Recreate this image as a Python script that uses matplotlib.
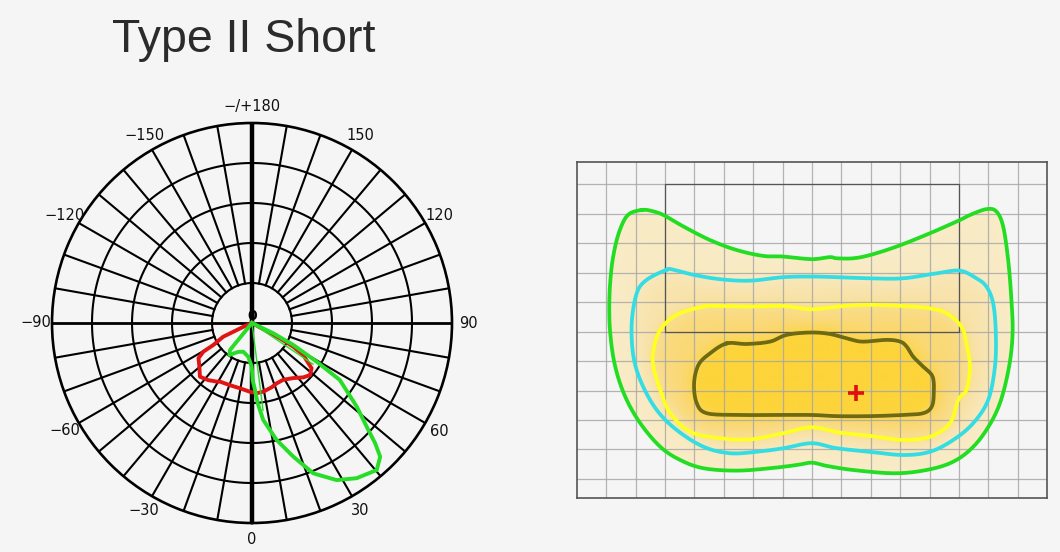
import numpy as np
import matplotlib
matplotlib.use("Agg")
import matplotlib.pyplot as plt
from matplotlib.path import Path
from matplotlib.patches import Polygon
from matplotlib.colors import LinearSegmentedColormap

BG = "#f5f5f5"

# --- polar intensity curves (angle in deg, intensity on 0..500 scale) ---
red_theta = [-66, -66, -64.5, -60.4, -59.5, -56.7, -50.3, -44.1, -37.5, -31, -28.6, -19.5, -10.4,
             -1.7, 3.8, 9.4, 17, 22.3, 28.8, 36.8, 43.4, 48.1, 52.8, 58, 60.2, 61.3, 61, 60]
red_r = [0, 25, 80, 111, 141, 160, 171, 187, 180, 171, 167, 165, 166,
         172, 176, 174, 168, 163, 162, 172, 187, 195, 187, 151, 119, 80, 43, 0]

green_theta = [-40, -39.2, -35.3, -25.5, -16.8, -6.3, -0.4, 0.7, 2.6, 4, 6.6, 11.9, 17.2,
               22.2, 28.3, 34, 40.3, 43.8, 45.7, 47.4, 51.4, 57, 59.1, 62, 64.2, 64]
green_r = [0, 87, 98, 80, 75, 85, 109, 143, 168, 200, 244, 299, 350,
           406, 446, 468, 482, 463, 430, 395, 335, 262, 189, 117, 59, 0]

thin_theta = [7.2, 7.2, 56, 56]
thin_r = [220, 0, 0, 184]

tick_angles = [0, 30, 60, 90, 120, 150, 180, 210, 240, 270, 300, 330]
tick_labels = ["0", "30", "60", "90", "120", "150", "\u2212/+180", "\u2212150", "\u2212120",
               "\u221290", "\u221260", "\u221230"]
rings = [100, 200, 300, 400]

# --- isolux contours (x, y in grid units) ---
green_x = [-5.79, -6.18, -6.41, -6.64, -6.81, -6.89, -6.86, -6.69, -6.35, -5.84, -5.16, -4.48, -3.69,
           -2.56, -1.43, -0.52, -0.01, 0.50, 1.40, 2.76, 3.78, 4.69, 5.37, 5.93, 6.39, 6.70, 6.82,
           6.78, 6.67, 6.50, 6.27, 5.93, 5.37, 5.03, 4.01, 2.88, 1.97, 1.40, 0.84, 0.61, -0.01,
           -0.97, -1.65, -2.56, -3.47, -4.37, -5.05, -5.50]
green_y = [4.13, 4.02, 3.74, 3.11, 2.21, 1.08, -0.06, -1.19, -2.21, -3.11, -3.91, -4.36, -4.64,
           -4.72, -4.64, -4.53, -4.45, -4.56, -4.70, -4.81, -4.72, -4.47, -4.02, -3.34, -2.43, -1.19, -0.06,
           1.08, 2.43, 3.57, 4.08, 4.16, 3.96, 3.79, 3.34, 2.89, 2.60, 2.49, 2.49, 2.53, 2.46,
           2.55, 2.57, 2.77, 3.11, 3.57, 3.96, 4.11]

cyan_x = [-4.94, -5.62, -5.96, -6.13, -6.07, -5.79, -5.28, -4.60, -3.69, -2.79, -1.88, -0.97, -0.01,
          0.84, 1.97, 3.10, 4.01, 4.80, 5.48, 5.99, 6.22, 6.25, 6.16, 5.93, 5.59, 5.03, 4.24,
          3.10, 1.97, 0.84, -0.01, -0.97, -2.11, -3.13, -4.03, -4.71]
cyan_y = [2.10, 1.76, 1.30, 0.28, -0.85, -1.76, -2.66, -3.34, -3.91, -4.13, -4.08, -3.96, -3.79,
          -3.96, -4.08, -4.19, -4.08, -3.68, -3.11, -2.32, -1.19, -0.06, 0.96, 1.53, 1.81, 2.07, 1.98,
          1.81, 1.81, 1.85, 1.87, 1.85, 1.73, 1.78, 1.93, 2.10]

yellow_x = [-3.69, -4.60, -5.16, -5.39, -5.39, -5.16, -4.82, -4.14, -3.13, -2.11, -0.97, -0.01, 0.95,
            1.97, 3.10, 4.01, 4.69, 4.97, 5.25, 5.37, 5.25, 5.08, 4.58, 4.01, 3.10, 1.97, 1.06,
            -0.01, -0.97, -2.11, -3.01]
yellow_y = [0.85, 0.57, 0.06, -0.62, -1.19, -1.98, -2.77, -3.40, -3.62, -3.66, -3.45, -3.25, -3.43,
            -3.54, -3.68, -3.57, -3.11, -2.32, -1.98, -1.19, -0.40, 0.17, 0.62, 0.79, 0.87, 0.91, 0.87,
            0.76, 0.87, 0.85, 0.87]

olive_x = [-2.90, -3.47, -3.86, -4.01, -3.92, -3.58, -2.56, -1.43, -0.01, 0.84, 1.97, 3.10, 3.78,
           4.07, 4.14, 4.10, 3.78, 3.44, 3.22, 3.00, 2.54, 1.74, 1.29, 0.61, -0.07, -0.86, -1.43, -2.22]
olive_y = [-0.40, -0.74, -1.13, -1.76, -2.43, -2.77, -2.83, -2.83, -2.83, -2.87, -2.87, -2.83, -2.77,
           -2.55, -2.10, -1.53, -1.19, -0.85, -0.51, -0.34, -0.28, -0.34, -0.26, -0.08, -0.03, -0.11, -0.34, -0.42]

max_point = (1.49, -2.10)


def smooth_closed(x, y, n=10):
    # closed Catmull-Rom curve through the traced points
    p = np.column_stack([x, y])
    p0, p1, p2, p3 = np.roll(p, 1, 0), p, np.roll(p, -1, 0), np.roll(p, -2, 0)
    t = np.linspace(0, 1, n, endpoint=False)[:, None, None]
    pts = 0.5 * (2 * p1 + (-p0 + p2) * t + (2 * p0 - 5 * p1 + 4 * p2 - p3) * t ** 2
                 + (-p0 + 3 * p1 - 3 * p2 + p3) * t ** 3)
    pts = pts.transpose(1, 0, 2).reshape(-1, 2)
    pts = np.vstack([pts, pts[:1]])
    return pts[:, 0], pts[:, 1]


def blur(a, sigma):
    k = np.arange(-3 * int(sigma), 3 * int(sigma) + 1)
    k = np.exp(-0.5 * (k / sigma) ** 2)
    k /= k.sum()
    pad = len(k) // 2
    a = np.pad(a, pad, mode="edge")
    a = np.apply_along_axis(lambda v: np.convolve(v, k, mode="same"), 0, a)
    a = np.apply_along_axis(lambda v: np.convolve(v, k, mode="same"), 1, a)
    return a[pad:-pad, pad:-pad]


fig = plt.figure(figsize=(10.6, 5.52), dpi=100, facecolor=BG)
fig.text(112 / 1060, 1 - 52 / 552, "Type II Short", fontsize=33.5, family="Liberation Sans",
         color="#2b2b2b", va="baseline", ha="left")

# ---------------- polar diagram ----------------
ax = fig.add_axes([52 / 1060, 29 / 552, 400 / 1060, 400 / 552], projection="polar")
ax.set_facecolor(BG)
ax.set_theta_zero_location("S")
ax.set_theta_direction(1)
ax.set_ylim(0, 500)
ax.grid(False)
ax.set_yticks([])
ax.set_xticks([])
ax.spines["polar"].set_linewidth(1.9)
ax.spines["polar"].set_color("black")

full = np.linspace(0, 2 * np.pi, 400)
for r in rings:
    ax.plot(full, np.full_like(full, r), color="black", lw=1.5, zorder=1)
for a in range(0, 360, 10):
    if a % 90:
        ax.plot([np.deg2rad(a)] * 2, [100, 500], color="black", lw=1.5, zorder=1)
ax.plot([0, 0], [0, 500], color="black", lw=3.2, zorder=1)
ax.plot([np.pi, np.pi], [0, 500], color="black", lw=3.2, zorder=1)
ax.plot([np.pi / 2] * 2, [0, 500], color="black", lw=2, zorder=1)
ax.plot([3 * np.pi / 2] * 2, [0, 500], color="black", lw=2, zorder=1)

for a, lab in zip(tick_angles, tick_labels):
    ax.text(np.deg2rad(a), 540, lab, ha="center", va="center", fontsize=10.5,
            color="#111111", clip_on=False)
ax.annotate("0", (0, 0), xytext=(0, 5), textcoords="offset points", ha="center", va="center",
            fontsize=10, fontweight="bold", color="black")

ax.plot(np.deg2rad(red_theta), red_r, color="#e11414", lw=2.8, zorder=3)
ax.plot(np.deg2rad(green_theta), green_r, color="#27dd27", lw=2.8, zorder=4)
ax.plot(np.deg2rad(thin_theta), thin_r, color="#27dd27", lw=1.0, zorder=4)

# ---------------- isolux diagram ----------------
xlim, ylim = (-8, 8), (-5.66, 5.75)
bx = fig.add_axes([576.7 / 1060, (552 - 498.3) / 552, 470.6 / 1060, 336 / 552])
bx.set_facecolor(BG)
bx.set_xlim(*xlim)
bx.set_ylim(*ylim)
bx.set_xticks([])
bx.set_yticks([])
for s in bx.spines.values():
    s.set_color("#555555")
    s.set_linewidth(1.2)

contours = [
    (green_x, green_y, "#22dd22"),
    (cyan_x, cyan_y, "#33dde3"),
    (yellow_x, yellow_y, "#ffff22"),
    (olive_x, olive_y, "#6e6a12"),
]
smoothed = [smooth_closed(cx, cy) for cx, cy, _ in contours]

# soft illuminance shading: count of contours enclosing each point, blurred
gx = np.linspace(*xlim, 480)
gy = np.linspace(*ylim, 342)
X, Y = np.meshgrid(gx, gy)
pts = np.column_stack([X.ravel(), Y.ravel()])
level = np.zeros(X.shape)
for sx, sy in smoothed:
    level += Path(np.column_stack([sx, sy])).contains_points(pts).reshape(X.shape)
level = blur(level, 10)
shade = LinearSegmentedColormap.from_list(
    "lux", [(0.0, "#f8ecc8"), (0.3, "#f8eac2"), (0.55, "#f8e2a8"),
            (0.8, "#fad977"), (1.0, "#fdd43a")])
im = bx.imshow(level, extent=[*xlim, *ylim], origin="lower", cmap=shade, vmin=0.3, vmax=3.7,
               aspect="auto", interpolation="bilinear", zorder=1)
im.set_clip_path(Polygon(np.column_stack(smoothed[0]), closed=True, transform=bx.transData))

for (sx, sy), (_, _, edge) in zip(smoothed, contours):
    bx.plot(sx, sy, color=edge, lw=2.7, zorder=4, solid_joinstyle="round")

for v in range(-7, 8):
    bx.axvline(v, color="#a8a8a8", lw=0.9, alpha=0.85, zorder=2)
for h in range(-5, 6):
    bx.axhline(h, color="#a8a8a8", lw=0.9, alpha=0.85, zorder=2)
bx.plot([-5, -5, 5, 5, -5], [0, 5, 5, 0, 0], color="#555555", lw=0.9, zorder=3)

bx.plot(*max_point, marker="+", markersize=11, mew=2.6, color="#e01010", zorder=5)

fig.savefig("out.png", dpi=100, facecolor=BG)
